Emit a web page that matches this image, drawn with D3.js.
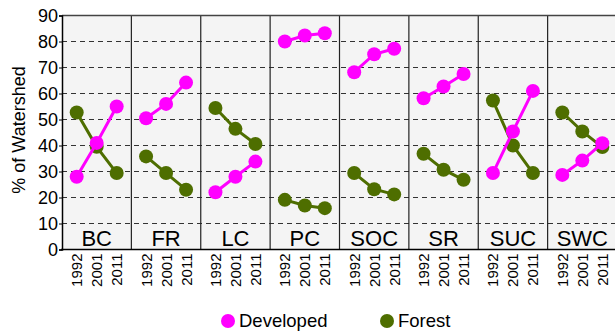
<!DOCTYPE html>
<html><head><meta charset="utf-8">
<script src="https://cdn.jsdelivr.net/npm/d3@7"></script>
<style>body{margin:0;background:#fff}svg{display:block}text{font-family:"Liberation Sans",Arial,sans-serif}</style>
</head><body><svg id="c" width="615" height="331"></svg>
<script>
const sites = ["BC","FR","LC","PC","SOC","SR","SUC","SWC"];
const years = ["1992","2001","2011"];
const developed = [[28,41,55],[50.5,56,64.2],[22,28,33.8],[80,82.3,83.2],[68.2,75.1,77.2],[58.2,62.7,67.5],[29.4,45.4,61],[28.7,34.2,40.9]];
const forest = [[52.7,39.5,29.4],[35.8,29.4,23],[54.4,46.4,40.6],[19.1,16.9,15.9],[29.4,23.2,21.2],[36.8,30.7,26.8],[57.3,40,29.4],[52.7,45.4,39.4]];
const yTicks = [0,10,20,30,40,50,60,70,80,90];
const seriesNames = ["Developed","Forest"];
const colors = {Developed:"#ff00ff", Forest:"#4e6e00"};

const svg = d3.select("#c");
const L = 62, T = 15.5, B = 249.5, R = 617;
const x = d3.scaleBand().domain(sites).range([L,R]);
const y = d3.scaleLinear().domain([0,90]).range([B,T]);
const xi = d3.scalePoint().domain(years).range([0,x.bandwidth()]).padding(0.735);

svg.append("rect").attr("x",L).attr("y",T).attr("width",R-L).attr("height",B-T).attr("fill","#f4f4f4");
svg.append("g").selectAll("line").data(yTicks.filter(d=>d>0&&d<90)).join("line")
  .attr("x1",L).attr("x2",R).attr("y1",d=>y(d)).attr("y2",d=>y(d))
  .attr("stroke","#333").attr("stroke-width",1).attr("stroke-dasharray","5,4");
svg.append("g").selectAll("line").data(sites.slice(1)).join("line")
  .attr("x1",d=>x(d)).attr("x2",d=>x(d)).attr("y1",T).attr("y2",B)
  .attr("stroke","#222").attr("stroke-width",1.2);
svg.append("line").attr("x1",L).attr("x2",R).attr("y1",T).attr("y2",T).attr("stroke","#444").attr("stroke-width",1.5);

const ya = svg.append("g").attr("transform",`translate(${L},0)`).call(d3.axisLeft(y).tickValues(yTicks).tickSize(3).tickPadding(1));
ya.select(".domain").attr("stroke","#000").attr("stroke-width",1.5);
ya.selectAll("text").attr("font-size",18).attr("fill","#000").attr("font-family","'Liberation Sans',Arial,sans-serif");
svg.append("line").attr("x1",L-1).attr("x2",R).attr("y1",B).attr("y2",B).attr("stroke","#000").attr("stroke-width",1.5);

svg.append("text").attr("transform",`translate(25,130) rotate(-90)`).attr("text-anchor","middle")
  .attr("font-size",18).text("% of Watershed");

svg.append("g").selectAll("text").data(sites).join("text")
  .attr("x",d=>x(d)+x.bandwidth()/2).attr("y",B-4).attr("text-anchor","middle")
  .attr("font-size",22).text(d=>d);

sites.forEach(s=>{
  svg.append("g").selectAll("text").data(years).join("text")
    .attr("transform",d=>`translate(${x(s)+xi(d)+5.5},${B+4}) rotate(-90)`)
    .attr("text-anchor","end").attr("font-size",15).text(d=>d);
});

const drawSeries = (name, vals) => {
  const col = colors[name];
  sites.forEach((s,i)=>{
    const pts = years.map((yr,j)=>[x(s)+xi(yr), y(vals[i][j])]);
    svg.append("path").attr("d",d3.line()(pts)).attr("fill","none").attr("stroke",col).attr("stroke-width",3);
    svg.append("g").selectAll("circle").data(pts).join("circle")
      .attr("cx",d=>d[0]).attr("cy",d=>d[1]).attr("r",7).attr("fill",col);
  });
};
drawSeries("Forest", forest);
drawSeries("Developed", developed);

const lg = svg.append("g");
const lx = [228, 387];
seriesNames.forEach((n,i)=>{
  lg.append("circle").attr("cx",lx[i]).attr("cy",321).attr("r",7).attr("fill",colors[n]);
  lg.append("text").attr("x",lx[i]+11).attr("y",326.5).attr("font-size",18.5).text(n);
});
</script></body></html>
